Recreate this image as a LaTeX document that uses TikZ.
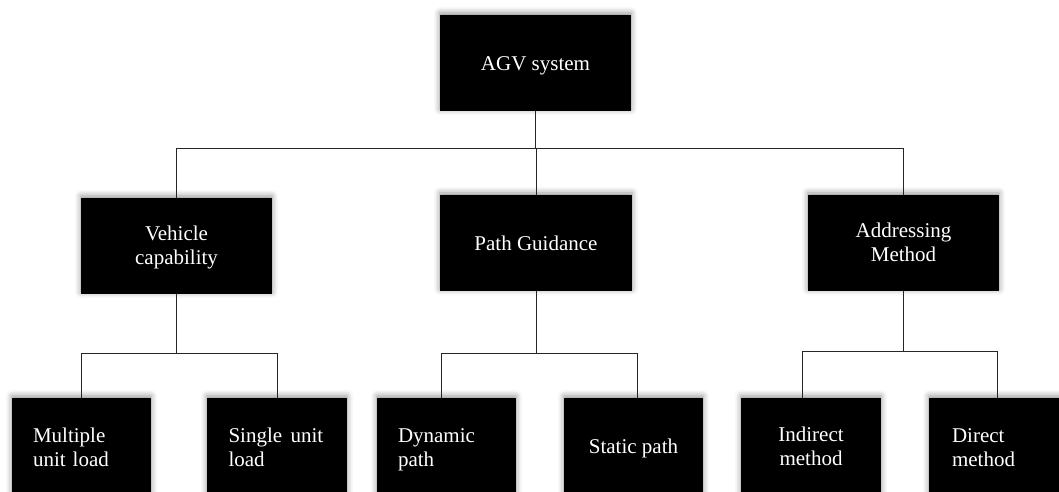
\documentclass[tikz,border=0pt]{standalone}
\usepackage{fontspec}
\setmainfont{Liberation Serif}
\usetikzlibrary{shadows.blur,calc}
\begin{document}
\begin{tikzpicture}[x=1pt,y=1pt,
  box/.style={fill=black,text=white,minimum height=96pt,inner sep=0pt,
    font=\fontsize{21}{24}\selectfont,text depth=0pt,text height=14.5pt,
    blur shadow={shadow xshift=0pt,shadow yshift=2pt,shadow blur radius=6pt,shadow opacity=45}},
  twoup/.style={text height=36pt},
  twolow/.style={text height=39pt},
  bigbox/.style={box,minimum width=191pt,align=center},
  ctrbox/.style={box,minimum width=139pt,align=center},
  lftbox/.style={box,minimum width=139pt,text width=97pt,align=left,text height=15pt,text depth=23pt},
  conn/.style={line width=0.9pt,draw=black!85}]
\useasboundingbox (0,0) rectangle (1059,-492);
% level 1
\node[bigbox] (agv) at (535.5,-63) {AGV system};
% level 2
\node[bigbox,twoup] (veh) at (176.5,-246) {Vehicle\\capability};
\node[bigbox,minimum width=192pt] (pg) at (536,-243) {Path Guidance};
\node[bigbox,twoup] (add) at (903.5,-243) {Addressing\\Method};
% level 3
\node[lftbox] (mul) at (81.5,-446) {Multiple\\unit load};
\node[lftbox,minimum width=140pt] (sin) at (277,-446) {Single\hspace{0.4em}unit\\load};
\node[lftbox] (dyn) at (446.5,-446) {Dynamic\\path};
\node[ctrbox] (sta) at (633.5,-446) {Static path};
\node[ctrbox,twolow,minimum width=140pt] (ind) at (811,-446) {Indirect\\method};
\node[lftbox,minimum width=140pt,text width=94pt] (dir) at (999,-446) {Direct\\method};
% connectors
\coordinate (bar1) at (0,-148);
\coordinate (bar2) at (0,-353);
\coordinate (bar3) at (0,-351);
\draw[conn] (agv.south) -- (agv.south |- bar1);
\draw[conn] (veh.north) |- (add.north |- bar1) -- (add.north);
\draw[conn] (pg.north) -- (pg.north |- bar1);
\draw[conn] (veh.south) -- (veh.south |- bar2);
\draw[conn] (mul.north) |- (sin.north |- bar2) -- (sin.north);
\draw[conn] (pg.south) -- (pg.south |- bar2);
\draw[conn] ([xshift=-5.5pt]dyn.north) |- ([xshift=3.5pt]sta.north |- bar2) -- ([xshift=3.5pt]sta.north);
\draw[conn] (add.south) -- (add.south |- bar3);
\draw[conn] ([xshift=-9pt]ind.north) |- ([xshift=-2pt]dir.north |- bar3) -- ([xshift=-2pt]dir.north);
\end{tikzpicture}
\end{document}
